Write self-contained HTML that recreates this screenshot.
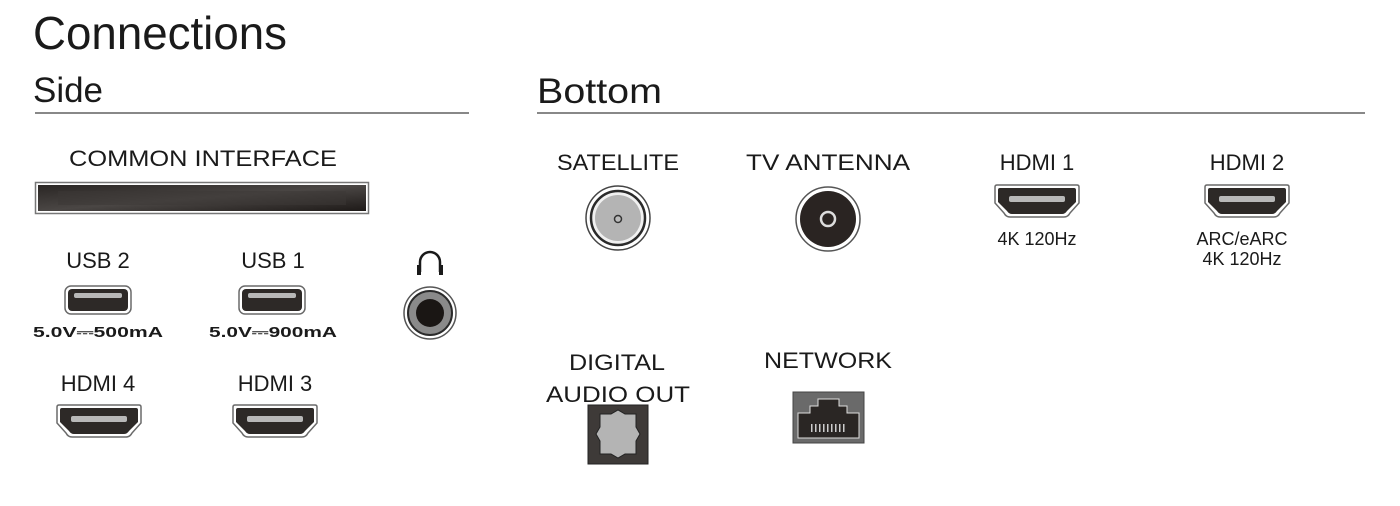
<!DOCTYPE html>
<html><head><meta charset="utf-8"><style>
html,body{margin:0;padding:0;background:#fff;}
svg{display:block;}
text{font-family:"Liberation Sans",sans-serif;fill:#1a1a1a;}
</style></head><body>
<svg width="1400" height="506" viewBox="0 0 1400 506" xmlns="http://www.w3.org/2000/svg">
<defs>
<linearGradient id="ci" x1="0" y1="0" x2="1" y2="1">
<stop offset="0" stop-color="#2a2624"/><stop offset="0.5" stop-color="#4a4644"/><stop offset="1" stop-color="#1e1a18"/>
</linearGradient>
<symbol id="hdmi" viewBox="0 0 86 36">
<path d="M3 2 H83 Q85 2 85 4 V20 L76 30 Q74 34 70 34 H16 Q12 34 10 30 L1 20 V4 Q1 2 3 2Z" fill="#fff" stroke="#6a6a6a" stroke-width="1.5"/>
<path d="M6 5 H80 Q82 5 82 7 V19 L73 28 Q71 31 68 31 H18 Q15 31 13 28 L4 19 V7 Q4 5 6 5Z" fill="#2d2927"/>
<rect x="15" y="13" width="56" height="6" rx="2" fill="#b8b8b8"/>
</symbol>
<symbol id="usb" viewBox="0 0 68 30">
<rect x="1" y="1" width="66" height="28" rx="6" fill="#fff" stroke="#6a6a6a" stroke-width="1.5"/>
<rect x="4" y="4" width="60" height="22" rx="4" fill="#2d2927"/>
<rect x="10" y="8" width="48" height="5" rx="2" fill="#b8b8b8"/>
</symbol>
</defs>

<text x="33" y="49" font-size="46" textLength="254" lengthAdjust="spacingAndGlyphs">Connections</text>
<text x="33" y="102" font-size="35" textLength="70" lengthAdjust="spacingAndGlyphs">Side</text>
<text x="537" y="103" font-size="35" textLength="125" lengthAdjust="spacingAndGlyphs">Bottom</text>
<rect x="35" y="112" width="434" height="2" fill="#888"/>
<rect x="537" y="112" width="828" height="2" fill="#888"/>

<!-- Side -->
<text x="203" y="166" font-size="22" text-anchor="middle" textLength="268" lengthAdjust="spacingAndGlyphs">COMMON INTERFACE</text>
<rect x="35.5" y="182.5" width="333" height="31" fill="#fff" stroke="#777" stroke-width="1.5"/>
<rect x="38" y="185" width="328" height="26" fill="url(#ci)"/>
<rect x="58" y="191" width="288" height="14" fill="#3c3836" opacity="0.5"/>

<text x="98" y="268" font-size="22" text-anchor="middle">USB 2</text>
<use href="#usb" x="64" y="285" width="68" height="30"/>
<text x="98" y="337" font-size="15" font-weight="bold" text-anchor="middle" textLength="130" lengthAdjust="spacingAndGlyphs">5.0V⎓500mA</text>
<text x="273" y="268" font-size="22" text-anchor="middle">USB 1</text>
<use href="#usb" x="238" y="285" width="68" height="30"/>
<text x="273" y="337" font-size="15" font-weight="bold" text-anchor="middle" textLength="128" lengthAdjust="spacingAndGlyphs">5.0V⎓900mA</text>

<!-- headphones -->
<path d="M420 272 V262 A10 10 0 0 1 440 262 V272" fill="none" stroke="#1a1a1a" stroke-width="2.5"/>
<rect x="417" y="265" width="4" height="10" fill="#1a1a1a"/>
<rect x="439" y="265" width="4" height="10" fill="#1a1a1a"/>
<circle cx="430" cy="313" r="26" fill="#fff" stroke="#555" stroke-width="1.5"/>
<circle cx="430" cy="313" r="22" fill="#8a8a8a" stroke="#2a2a2a" stroke-width="2"/>
<circle cx="430" cy="313" r="14" fill="#1a1614"/>

<text x="98" y="391" font-size="22" text-anchor="middle">HDMI 4</text>
<use href="#hdmi" x="56" y="403" width="86" height="36"/>
<text x="275" y="391" font-size="22" text-anchor="middle">HDMI 3</text>
<use href="#hdmi" x="232" y="403" width="86" height="36"/>

<!-- Bottom -->
<text x="618" y="170" font-size="22" text-anchor="middle" textLength="122" lengthAdjust="spacingAndGlyphs">SATELLITE</text>
<circle cx="618" cy="218" r="32" fill="#fff" stroke="#444" stroke-width="1.5"/>
<circle cx="618" cy="218" r="27" fill="#f0f0f0" stroke="#2a2a2a" stroke-width="2.5"/>
<circle cx="618" cy="218" r="23" fill="#b4b4b4"/>
<circle cx="618" cy="219" r="3.5" fill="#bbb" stroke="#333" stroke-width="1.5"/>

<text x="828" y="170" font-size="22" text-anchor="middle" textLength="164" lengthAdjust="spacingAndGlyphs">TV ANTENNA</text>
<circle cx="828" cy="219" r="32" fill="#fff" stroke="#555" stroke-width="1.5"/>
<circle cx="828" cy="219" r="28" fill="#2a2422"/>
<circle cx="828" cy="219" r="7" fill="none" stroke="#ddd" stroke-width="2.5"/>

<text x="1037" y="170" font-size="22" text-anchor="middle">HDMI 1</text>
<use href="#hdmi" x="994" y="183" width="86" height="36"/>
<text x="1037" y="245" font-size="18" text-anchor="middle">4K 120Hz</text>

<text x="1247" y="170" font-size="22" text-anchor="middle">HDMI 2</text>
<use href="#hdmi" x="1204" y="183" width="86" height="36"/>
<text x="1242" y="245" font-size="18" text-anchor="middle">ARC/eARC</text>
<text x="1242" y="265" font-size="18" text-anchor="middle">4K 120Hz</text>

<text x="617" y="370" font-size="22" text-anchor="middle" textLength="96" lengthAdjust="spacingAndGlyphs">DIGITAL</text>
<text x="618" y="402" font-size="22" text-anchor="middle" textLength="144" lengthAdjust="spacingAndGlyphs">AUDIO OUT</text>
<rect x="588" y="405" width="60" height="59" fill="#3e3a38" stroke="#222" stroke-width="1"/>
<path d="M600 414 H611 L618 410 L625 414 H636 V427 L640 434 L636 441 V454 H625 L618 458 L611 454 H600 V441 L596 434 L600 427Z" fill="#b4b4b4" stroke="#222" stroke-width="1"/>

<text x="828" y="368" font-size="22" text-anchor="middle" textLength="128" lengthAdjust="spacingAndGlyphs">NETWORK</text>
<rect x="793" y="392" width="71" height="51" fill="#6a6a6a" stroke="#444" stroke-width="1"/>
<path d="M798 413 H810 V406 H818 V399 H839 V406 H847 V413 H859 V438 H798Z" fill="#2a2624" stroke="#ddd" stroke-width="1"/>
<g fill="#ccc">
<rect x="811" y="424" width="1.5" height="8"/><rect x="815" y="424" width="1.5" height="8"/><rect x="819" y="424" width="1.5" height="8"/><rect x="823" y="424" width="1.5" height="8"/><rect x="827" y="424" width="1.5" height="8"/><rect x="831" y="424" width="1.5" height="8"/><rect x="835" y="424" width="1.5" height="8"/><rect x="839" y="424" width="1.5" height="8"/><rect x="843" y="424" width="1.5" height="8"/>
</g>
</svg>
</body></html>
